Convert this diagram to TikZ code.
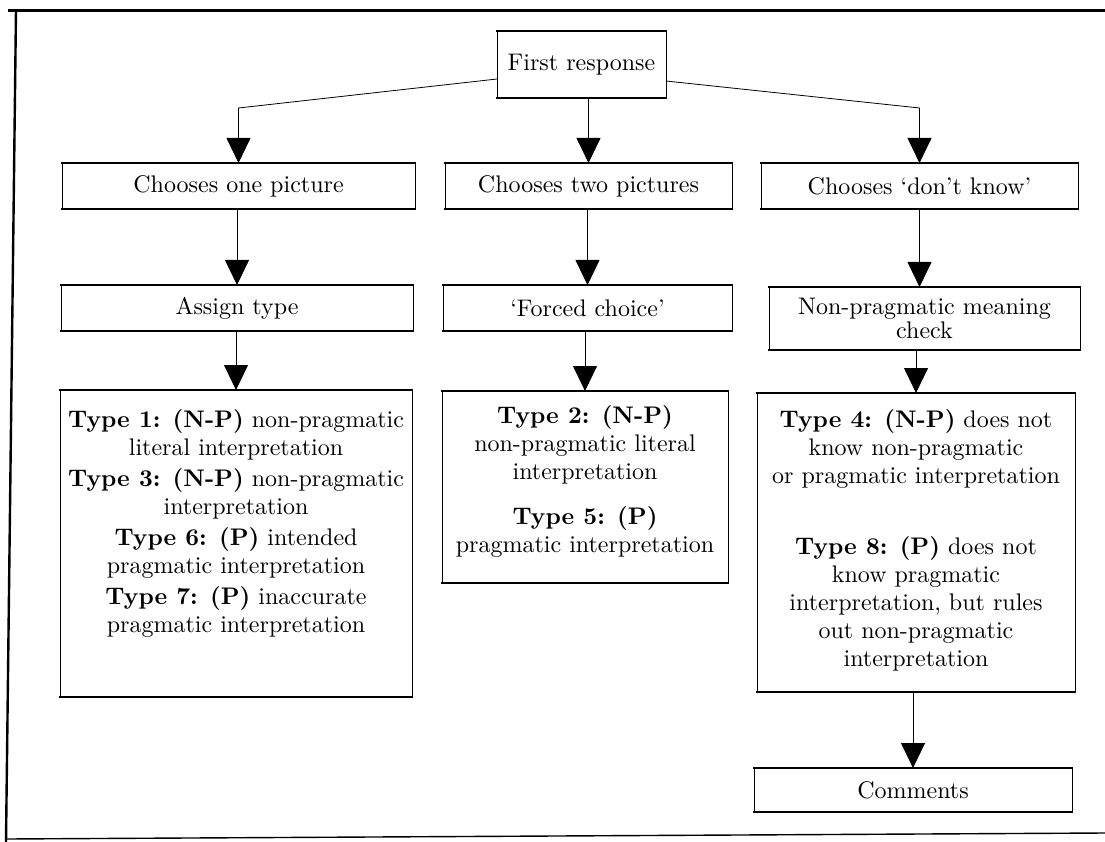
\documentclass[tikz,border=0pt]{standalone}
\usepackage{fontspec}
\setmainfont{lmroman10-regular.otf}[BoldFont=lmroman10-bold.otf]
\usetikzlibrary{arrows.meta}

\newcommand\fs{\fontsize{24}{28}\selectfont}
\newcommand\fsn{\fontsize{24}{24}\selectfont}

\tikzset{
  stepbox/.style={draw, line width=0.9pt, inner sep=0pt, outer sep=0pt, font=\fs},
  edge/.style={line width=1.8pt, line cap=rect},
  lab/.style={font=\fs, align=center, inner sep=0pt},
  conn/.style={line width=0.8pt},
  tip/.style={-{Triangle[width=24pt,length=25pt]}},
  rule/.style={line cap=butt},
}

\begin{document}
\begin{tikzpicture}[x=1pt,y=-1pt]
\useasboundingbox (0,0) rectangle (1105,842);

% page frame
\draw[rule, line width=3pt] (8,11) -- (1105,11);
\draw[rule, line width=2.4pt] (16,10) -- (6,842);
\draw[rule, line width=1.4pt] (6,839) -- (1105,833);

% boxes
\node[stepbox, minimum width=169pt, minimum height=67pt] (fr) at (581.5,64.5) {First response};

\node[stepbox, minimum width=353pt, minimum height=46pt] (A1) at (238.5,186) {Chooses one picture};
\node[stepbox, minimum width=287pt, minimum height=46pt] (B1) at (588.5,186) {Chooses two pictures};
\node[stepbox, minimum width=317pt, minimum height=46pt] (C1) at (919.5,186) {Chooses ‘don’t know’};

\node[stepbox, minimum width=352pt, minimum height=46pt] (A2) at (237,308) {Assign type};
\node[stepbox, minimum width=289pt, minimum height=46pt] (B2) at (587.5,308) {‘Forced choice’};
\node[stepbox, minimum width=311pt, minimum height=63pt, align=center, font=\fsn] (C2) at (924.5,318.5) {Non-pragmatic meaning\\check};

\node[stepbox, minimum width=352pt, minimum height=307pt] (A3) at (236,543.5) {};
\node[stepbox, minimum width=286pt, minimum height=192pt] (B3) at (585,487) {};
\node[stepbox, minimum width=318pt, minimum height=299pt] (C3) at (916,542.5) {};

\node[stepbox, minimum width=318pt, minimum height=44pt] (Cm) at (913,790) {Comments};

% heavier top and bottom edges of every box
\foreach \b in {fr,A1,B1,C1,A2,B2,C2,A3,B3,C3,Cm}
  \draw[edge] (\b.north west) -- (\b.north east) (\b.south west) -- (\b.south east);

% box texts
\node[lab, anchor=north] (A3t) at (236,409) {%
  \textbf{Type 1: (N-P)} non-pragmatic\\
  literal interpretation\\[3pt]
  \textbf{Type 3: (N-P)} non-pragmatic\\
  interpretation\\[3pt]
  \textbf{Type 6: (P)} intended\\
  pragmatic interpretation\\[3pt]
  \textbf{Type 7: (P)} inaccurate\\
  pragmatic interpretation};

\node[lab, anchor=north] (B3t) at (585,405) {%
  \textbf{Type 2: (N-P)}\\
  non-pragmatic literal\\
  interpretation\\[17pt]
  \textbf{Type 5: (P)}\\
  pragmatic interpretation};

\node[lab, anchor=north] (C3t) at (916,409) {%
  \textbf{Type 4: (N-P)} does not\\
  know non-pragmatic\\
  or pragmatic interpretation\\[43pt]
  \textbf{Type 8: (P)} does not\\
  know pragmatic\\
  interpretation, but rules\\
  out non-pragmatic\\
  interpretation};

% connectors
\coordinate (yk) at (0,108);
\coordinate (kL) at (A1.north |- yk);
\coordinate (kR) at (C1.north |- yk);

\draw[conn, tip] ([yshift=-14.5pt]fr.west) -- (kL) -- (A1.north);
\draw[conn, tip] (fr.south -| B1.north) -- (B1.north);
\draw[conn, tip] ([yshift=-16.5pt]fr.east) -- (kR) -- (C1.north);

\draw[conn, tip] (A1.south -| A2.north) -- (A2.north);
\draw[conn, tip] (A2.south -| A3.north) -- (A3.north);

\draw[conn, tip] (B1.south -| B2.north) -- (B2.north);
\draw[conn, tip] (B2.south -| B3.north) -- (B3.north);

\draw[conn, tip] (C1.south) -- (C1.south |- C2.north);
\draw[conn, tip] (C3.north |- C2.south) -- (C3.north);
\draw[conn, tip] (Cm.north |- C3.south) -- (Cm.north);
\end{tikzpicture}
\end{document}
